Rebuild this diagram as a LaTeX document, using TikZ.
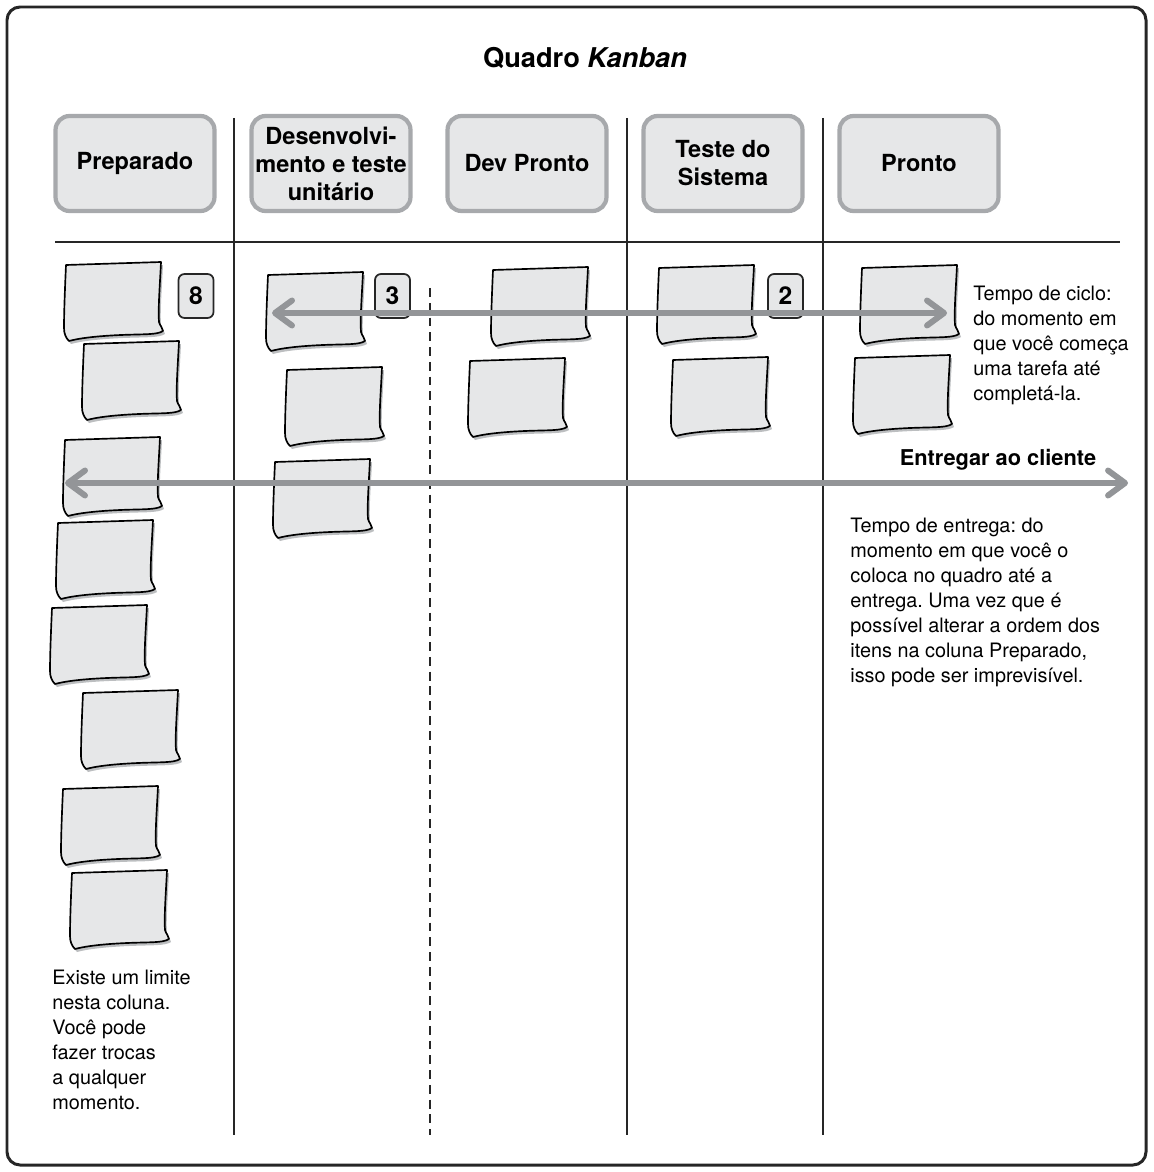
\documentclass[tikz,border=0pt]{standalone}
\usepackage{fontspec}
\setmainfont{TeX Gyre Heros}
\usepackage{xcolor}
\usetikzlibrary{arrows.meta}
\frenchspacing

\definecolor{cardfill}{HTML}{E6E7E8}
\definecolor{cardedge}{HTML}{A7A9AC}
\definecolor{cardshade}{HTML}{BCBEC0}
\definecolor{flowgray}{HTML}{939598}

\begin{document}
\begin{tikzpicture}[
	x=0.02cm,y=-0.02cm,
	frame/.style={draw=black!85,line width=1.7pt,rounded corners=0.26cm},
	rule/.style={draw=black!85,line width=1.1pt},
	wiprule/.style={rule,line width=1.2pt,dash pattern=on 5pt off 3.4pt},
	colhead/.style={draw=cardedge,fill=cardfill,line width=2.4pt,rounded corners=0.28cm,
		minimum width=3.18cm,minimum height=1.9cm,align=center,inner sep=0pt,
		font=\bfseries\fontsize{13.4}{15.9}\selectfont},
	wip/.style={draw=black!85,fill=cardfill,line width=1pt,rounded corners=0.12cm,
		minimum width=0.7cm,minimum height=0.88cm,inner sep=0pt,
		font=\bfseries\fontsize{14}{16}\selectfont},
	flow/.style={{Straight Barb[length=3.4mm,width=5mm,round]}-{Straight Barb[length=3.4mm,width=5mm,round]},
		draw=flowgray,line width=3.4pt},
	note/.style={align=left,inner sep=0pt,font=\fontsize{11.3}{14.2}\selectfont},
	card/.pic={
		\draw[line width=0.95pt,fill=cardfill,line join=round,
			preaction={fill=cardshade,transform canvas={shift={(0.04cm,-0.06cm)}}}]
			(0,3) -- (95,0) .. controls (94,22) and (92,46) .. (93,60)
			.. controls (94,64) and (97,66) .. (97,69)
			.. controls (91,73) and (78,72) .. (55,73)
			.. controls (32,74) and (14,76) .. (3,79)
			.. controls (0,76) and (-2,72) .. (-2,66)
			.. controls (-2,50) and (-1,25) .. (0,3) -- cycle;
	}]
	\useasboundingbox (0,0) rectangle (1153,1172);
	\draw[frame] (7,7) rectangle (1146,1165);

	% board title
	\node[font=\bfseries\fontsize{15.5}{18}\selectfont,anchor=base] (title) at (585,68) {Quadro \textit{Kanban}};

	% column heads and rules
	\foreach \txt [count=\i from 0] in {Preparado,{Desenvolvi-\\mento e teste\\unitário},Dev Pronto,{Teste do\\Sistema},Pronto}
		\node[colhead] (col\i) at (135+196*\i,163.5) {\txt};
	\draw[rule] (55,242) -- (1120,242);
	\foreach \x in {234,627,823}
		\draw[rule] (\x,118) -- (\x,1135);
	\draw[wiprule] (430,288) -- (430,1135);

	% cards on the board
	\foreach \p in {(66,262),(84,341),(65,437),(58,520),(52,605),(83,690),(63,786),(72,870),
		(268,272),(287,367),(275,459),(493,267),(470,358),(659,265),(673,357),(862,265),(855,355)}
		\pic at \p {card};

	% WIP limits
	\node[wip] (lim1) at (196,296) {8};
	\node[wip] (lim2) at (392.5,296) {3};
	\node[wip] (lim3) at (785.5,296) {2};

	% cycle time and lead time
	\coordinate (cyc-a) at (272,313);
	\coordinate (cyc-b) at (947,313);
	\draw[flow] (cyc-a) -- (cyc-b);
	\coordinate (lead-a) at (65,483);
	\coordinate (lead-b) at (1128,483);
	\draw[flow] (lead-a) -- (lead-b);

	\node[note,anchor=north west] (cyctxt) at (973,286) {Tempo de ciclo:\\do momento em\\que você começa\\uma tarefa até\\completá-la.};
	\node[font=\bfseries\fontsize{12.4}{14}\selectfont,anchor=base] (deliver) at (998,465) {Entregar ao cliente};
	\node[note,anchor=north west] (leadtxt) at (850,518) {Tempo de entrega: do\\momento em que você o\\coloca no quadro até a\\entrega. Uma vez que é\\possível alterar a ordem dos\\itens na coluna Preparado,\\isso pode ser imprevisível.};
	\node[note,anchor=north west] (limtxt) at (52,970) {Existe um limite\\nesta coluna.\\Você pode\\fazer trocas\\a qualquer\\momento.};
\end{tikzpicture}
\end{document}
